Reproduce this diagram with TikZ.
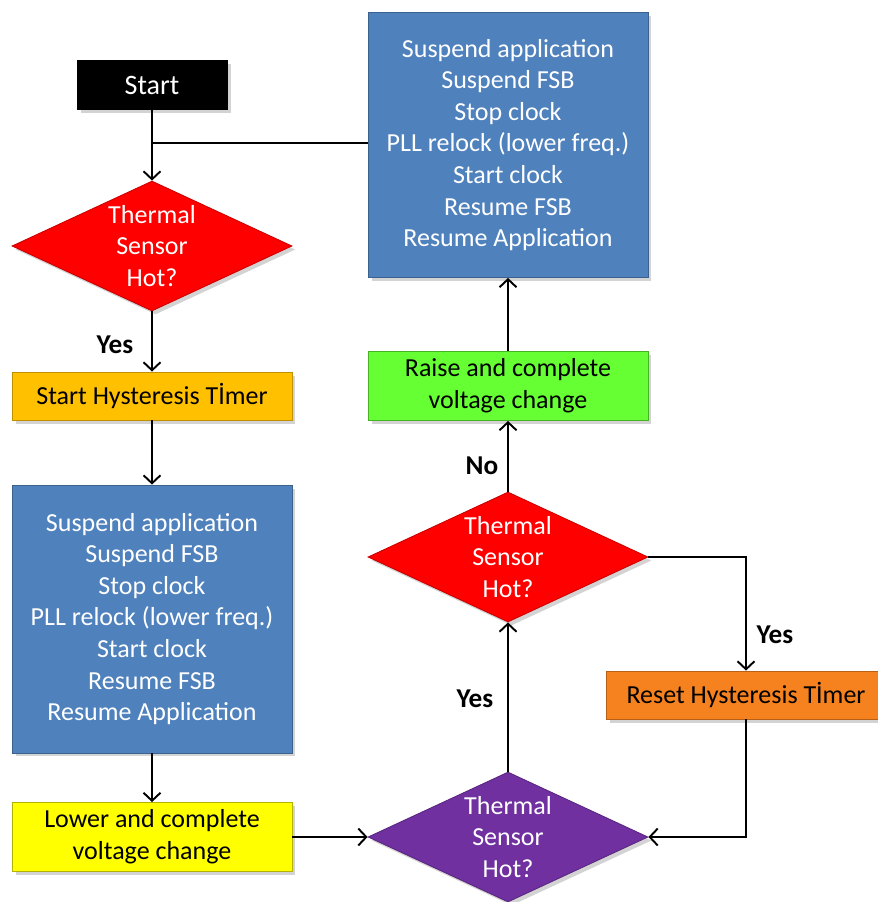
\documentclass[tikz,border=0pt]{standalone}
\usepackage{fontspec}
\setmainfont{Carlito}
\usepackage{tikz}
\usetikzlibrary{shapes,arrows.meta,shadows,positioning}
\definecolor{hotred}{RGB}{255,0,0}
\definecolor{timergold}{RGB}{255,192,0}
\definecolor{stepblue}{RGB}{79,129,189}
\definecolor{lowyellow}{RGB}{255,255,0}
\definecolor{checkpurple}{RGB}{112,48,160}
\definecolor{resetorange}{RGB}{245,130,30}
\definecolor{raisegreen}{RGB}{102,255,51}

\begin{document}
\begin{tikzpicture}[x=0.02cm,y=-0.02cm]
    %styles
    \tikzstyle{box}=[rectangle,align=center,line width=0.5pt,minimum width=5.6cm,font=\fontsize{14.8}{18}\selectfont,drop shadow={opacity=0.35,shadow xshift=2pt,shadow yshift=-2pt}]
    \tikzstyle{cond}=[diamond,aspect=2.1,inner sep=0pt,align=center,line width=0.5pt,minimum width=5.6cm,minimum height=2.6cm,text=white,font=\fontsize{14.8}{18}\selectfont,drop shadow={opacity=0.35,shadow xshift=2pt,shadow yshift=-2pt}]
    \tikzstyle{flow}=[-{Straight Barb[length=1.6mm,width=3.4mm]},line width=1.1pt]
    \tikzstyle{link}=[line width=1.1pt]
    \tikzstyle{answer}=[font=\bfseries\fontsize{15.5}{18}\selectfont]
    \useasboundingbox (0,0) rectangle (878,902);
    %nodes
    \node[box,fill=black,draw=black,text=white,minimum width=3cm,minimum height=0.98cm,font=\fontsize{16}{18}\selectfont] (start) at (152,85) {Start};
    \node[cond,fill=hotred,draw=hotred!80!black] (hot1) at (152,246) {Thermal\\Sensor\\Hot?};
    \node[box,fill=timergold,draw=timergold!75!black,minimum height=0.96cm] (timer) at (152,396) {Start Hysteresis Tİmer};
    \node[box,fill=stepblue,draw=stepblue!75!black,text=white,minimum height=5.36cm] (downstep) at (152,619) {Suspend application\\Suspend FSB\\Stop clock\\PLL relock (lower freq.)\\Start clock\\Resume FSB\\Resume Application};
    \node[box,fill=lowyellow,draw=lowyellow!70!black,minimum height=1.38cm] (lower) at (152,837) {Lower and complete\\voltage change};
    \node[cond,fill=checkpurple,draw=checkpurple!80!black] (hot3) at (508,837) {Thermal\\Sensor\\Hot?};
    \node[cond,fill=hotred,draw=hotred!80!black] (hot2) at (508,557) {Thermal\\Sensor\\Hot?};
    \node[box,fill=resetorange,draw=resetorange!75!black,minimum height=0.96cm] (reset) at (746,695) {Reset Hysteresis Tİmer};
    \node[box,fill=raisegreen,draw=raisegreen!70!black,minimum height=1.38cm] (raise) at (508,386) {Raise and complete\\voltage change};
    \node[box,fill=stepblue,draw=stepblue!75!black,text=white,minimum height=5.3cm] (upstep) at (508,145) {Suspend application\\Suspend FSB\\Stop clock\\PLL relock (lower freq.)\\Start clock\\Resume FSB\\Resume Application};
    \coordinate (join) at (152,143);

    \node[answer] (yes1) at (115,345) {Yes};
    \node[answer] (yes2) at (475,699) {Yes};
    \node[answer] (no2) at (482,466) {No};
    \node[answer] (yes3) at (775,635) {Yes};

    %arrows
    \draw[flow] (start)--(hot1);
    \draw[link] (upstep.west|-join)--(join);
    \draw[flow] (hot1)--(timer);
    \draw[flow] (timer)--(downstep);
    \draw[flow] (downstep)--(lower);
    \draw[flow] (lower)--(hot3);
    \draw[flow] (hot3)--(hot2);
    \draw[flow] (hot2)--(raise);
    \draw[flow] (raise)--(upstep);
    \draw[flow] (hot2.east)-|(reset.north);
    \draw[flow] (reset.south)|-(hot3.east);

\end{tikzpicture}
\end{document}
